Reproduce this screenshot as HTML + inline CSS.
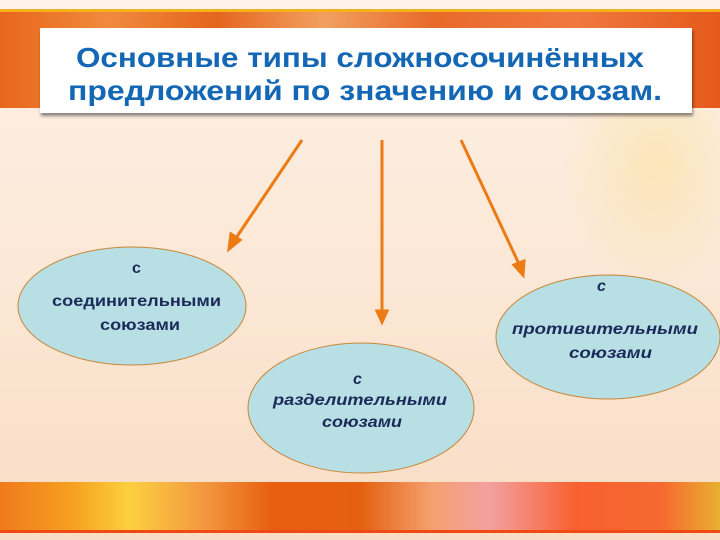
<!DOCTYPE html>
<html><head><meta charset="utf-8"><style>
html,body{margin:0;padding:0}
body{width:720px;height:540px;overflow:hidden;position:relative;font-family:"Liberation Sans","DejaVu Sans",sans-serif;
background:linear-gradient(180deg,#fdf1e6 0%,#fbe6d3 60%,#f8dcc4 100%);}
.top{position:absolute;left:0;top:0;width:720px;height:10px;background:#fdf3e8}
.yl{position:absolute;left:0;top:9px;width:720px;height:3px;background:#f5b21f}
.band{position:absolute;left:0;top:12px;width:720px;height:96px;
background:linear-gradient(90deg,#e8661c 0%,#f08a3c 15%,#e5651e 30%,#f2a060 45%,#e86a2a 60%,#f07840 80%,#e45a1a 100%)}
.title{position:absolute;left:40px;top:28px;width:652px;height:85px;background:#fff;box-shadow:1px 3px 3px rgba(0,0,0,.45)}
.star{position:absolute;left:560px;top:110px;width:160px;height:180px;background:radial-gradient(ellipse at 60% 30%,rgba(250,225,160,.6),rgba(250,225,160,0) 70%)}
.bot{position:absolute;left:0;top:482px;width:720px;height:49px;
background:linear-gradient(90deg,#f07a1c 0%,#f5a020 10%,#fcd040 18%,#f39a40 28%,#e85e10 38%,#e46010 50%,#f5a070 60%,#f2a0a0 68%,#f86030 80%,#f56a30 92%,#e8b030 100%)}
.red{position:absolute;left:0;top:530px;width:720px;height:3px;background:#f04a14}
.t{font-size:16px;fill:#1c2a5a;font-weight:bold}
.h{font-size:28px;fill:#1467b4;font-weight:bold}
</style></head><body>
<div class="top"></div><div class="yl"></div><div class="band"></div>
<div class="star"></div>
<div class="title"></div>
<div class="bot"></div><div class="red"></div>
<svg width="720" height="540" style="position:absolute;left:0;top:0">
<text class="h" x="76" y="67" textLength="568" lengthAdjust="spacingAndGlyphs">Основные типы сложносочинённых</text>
<text class="h" x="68" y="100" textLength="594" lengthAdjust="spacingAndGlyphs">предложений по значению и союзам.</text>
<g stroke="#ee7a14" stroke-width="3" fill="#ee7a14">
<line x1="302" y1="140" x2="236" y2="238"/>
<polygon points="229,249 231,234 240,240"/>
<line x1="382" y1="140" x2="382" y2="312"/>
<polygon points="382,322 377,311 387,311" />
<line x1="461" y1="140" x2="519" y2="264"/>
<polygon points="523,275 514,265 524,261"/>
</g>
<g fill="#b7dfe4" stroke="#c8873a" stroke-width="1">
<ellipse cx="132" cy="306" rx="114" ry="59"/>
<ellipse cx="361" cy="408" rx="113" ry="65"/>
<ellipse cx="608" cy="337" rx="112" ry="62"/>
</g>
<text class="t" x="132" y="273">с</text>
<text class="t" x="52" y="306" textLength="169" lengthAdjust="spacingAndGlyphs">соединительными</text>
<text class="t" x="100" y="330" textLength="80" lengthAdjust="spacingAndGlyphs">союзами</text>
<text class="t" font-style="italic" x="353" y="384">с</text>
<text class="t" font-style="italic" x="273" y="405" textLength="174" lengthAdjust="spacingAndGlyphs">разделительными</text>
<text class="t" font-style="italic" x="322" y="427" textLength="80" lengthAdjust="spacingAndGlyphs">союзами</text>
<text class="t" font-style="italic" x="597" y="291">с</text>
<text class="t" font-style="italic" x="512" y="334" textLength="186" lengthAdjust="spacingAndGlyphs">противительными</text>
<text class="t" font-style="italic" x="569" y="358" textLength="83" lengthAdjust="spacingAndGlyphs">союзами</text>
</svg>
</body></html>
